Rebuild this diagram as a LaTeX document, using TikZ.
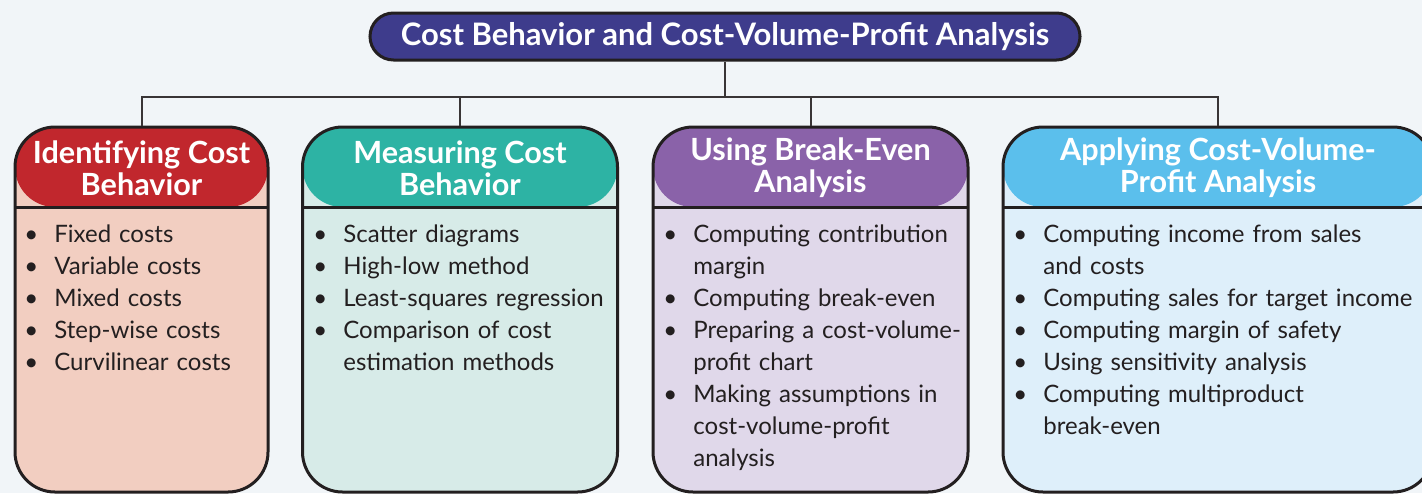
\documentclass[tikz,border=0pt]{standalone}
\usepackage{fontspec}
\setmainfont{Lato}

\definecolor{bgcol}{HTML}{F1F5F8}
\definecolor{inkcol}{HTML}{231F20}
\definecolor{indigo}{HTML}{3E3C8C}
\definecolor{redhead}{HTML}{C1272D}
\definecolor{peach}{HTML}{F2CEC1}
\definecolor{tealhead}{HTML}{2DB3A4}
\definecolor{mint}{HTML}{D7EBE8}
\definecolor{purplehead}{HTML}{8A62A9}
\definecolor{lilac}{HTML}{E0D8EA}
\definecolor{skyhead}{HTML}{5BBFEC}
\definecolor{ice}{HTML}{DEEFFA}

% bullet for the topic lists
\newcommand{\blt}{\par\noindent\strut\llap{\textbullet\hspace{8pt}}}

\begin{document}
\begin{tikzpicture}[x=0.5pt,y=-0.5pt,
  conn/.style={draw=inkcol!90, line width=1pt},
  card/.style={draw=inkcol, line width=1.5pt, rounded corners=20pt,
    minimum height=182.5pt, inner sep=0pt,
    path picture={
      \fill[#1] (path picture bounding box.north west) rectangle ([yshift=-40pt]path picture bounding box.north east);
      \draw[inkcol, line width=1.5pt] ([yshift=-40pt]path picture bounding box.north west) -- ([yshift=-40pt]path picture bounding box.north east);
    }},
  head/.style={text=white, align=center, font=\bfseries\fontsize{15.3}{16}\selectfont},
  itemlist/.style={anchor=north west, inner sep=0pt, text width=240pt, align=left,
    text=inkcol, font=\fontsize{12}{16}\selectfont}]

\useasboundingbox (0,0) rectangle (1422,493);
\fill[bgcol] (0,0) rectangle (1422,493);

% title
\node (title) at (725,36.5) [draw=inkcol, line width=1.5pt, fill=indigo, rounded corners=11.75pt,
  minimum width=355pt, minimum height=23.5pt, inner sep=0pt, text=white,
  font=\bfseries\fontsize{15.5}{16}\selectfont] {Cost Behavior and Cost-Volume-Profit Analysis};

% the four topic cards
\node (c1) at (141.5,309.5) [card=redhead, fill=peach, minimum width=126.5pt] {};
\node (c2) at (460,309.5) [card=tealhead, fill=mint, minimum width=157.5pt] {};
\node (c3) at (810.5,309.5) [card=purplehead, fill=lilac, minimum width=157.5pt] {};
\node (c4) at (1218,309.5) [card=skyhead, fill=ice, minimum width=215pt] {};

% connectors
\draw[conn] (title.south) -- ++(0,35) coordinate (bus);
\foreach \c in {c1,c2,c3,c4}
  \draw[conn] (bus) -| (\c.north);

% card headings
\node (h1) at (141.5,168) [head] {Identifying Cost\\Behavior};
\node (h2) at (460,168) [head] {Measuring Cost\\Behavior};
\node (h3) at (810.5,168) [head] {Using Break-Even\\Analysis};
\node (h4) at (1218,168) [head] {Applying Cost-Volume-\\Profit Analysis};

% topic lists
\node (l1) at (33,210) [itemlist] {\leftskip=10.5pt \hyphenpenalty=10000
  \blt Fixed costs
  \blt Variable costs
  \blt Mixed costs
  \blt Step-wise costs
  \blt Curvilinear costs\par};
\node (l2) at (322,210) [itemlist] {\leftskip=10.5pt \hyphenpenalty=10000
  \blt Scatter diagrams
  \blt High-low method
  \blt Least-squares regression
  \blt Comparison of cost\newline\strut estimation methods\par};
\node (l3) at (672,210) [itemlist] {\leftskip=10.5pt \hyphenpenalty=10000
  \blt Computing contribution\newline\strut margin
  \blt Computing break-even
  \blt Preparing a cost-volume-\newline\strut profit chart
  \blt Making assumptions in\newline\strut cost-volume-profit\newline\strut analysis\par};
\node (l4) at (1022,210) [itemlist] {\leftskip=10.5pt \hyphenpenalty=10000
  \blt Computing income from sales\newline\strut and costs
  \blt Computing sales for target income
  \blt Computing margin of safety
  \blt Using sensitivity analysis
  \blt Computing multiproduct\newline\strut break-even\par};

\end{tikzpicture}
\end{document}
